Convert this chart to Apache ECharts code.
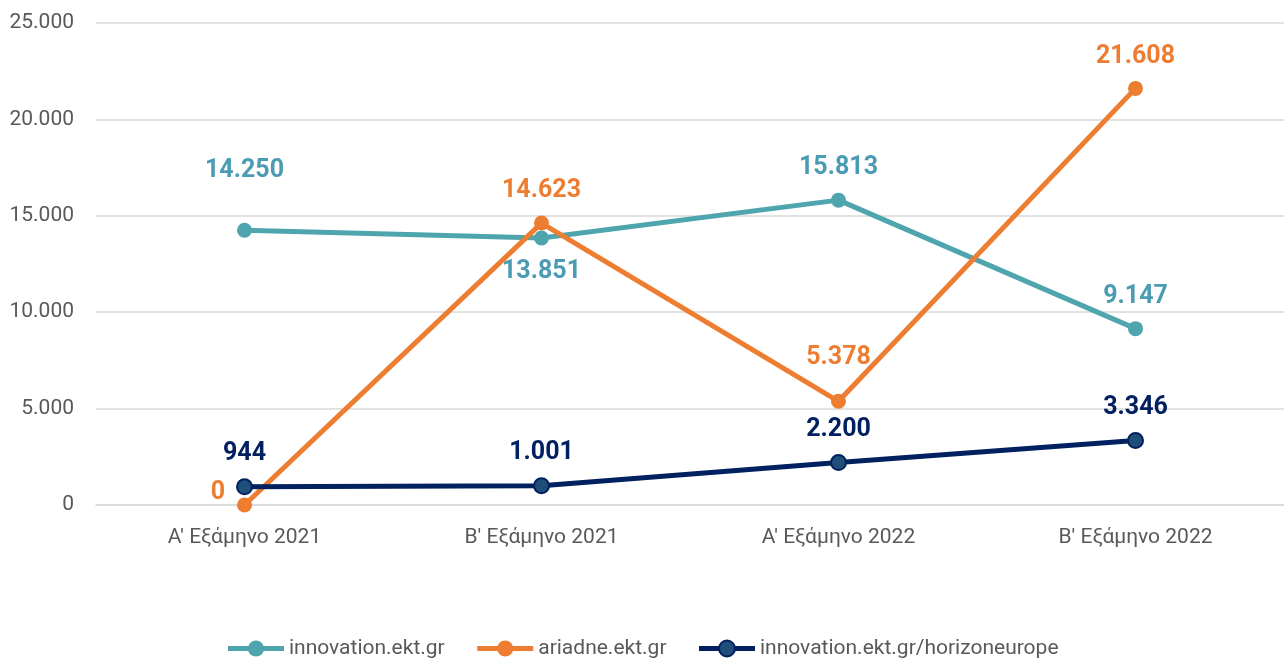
<!DOCTYPE html>
<html>
<head>
<meta charset="utf-8">
<script src="https://cdn.jsdelivr.net/npm/echarts@6/dist/echarts.min.js"></script>
<style>
  html, body { margin: 0; padding: 0; background: #fff; }
  #chart { width: 1284px; height: 661px; }
</style>
</head>
<body>
<div id="chart"></div>
<script>
'use strict';

var categories = ["A' Εξάμηνο 2021", "B' Εξάμηνο 2021", "A' Εξάμηνο 2022", "B' Εξάμηνο 2022"];
var innovation = [14250, 13851, 15813, 9147];
var ariadne = [0, 14623, 5378, 21608];
var horizon = [944, 1001, 2200, 3346];
var seriesNames = ['innovation.ekt.gr', 'ariadne.ekt.gr', 'innovation.ekt.gr/horizoneurope'];

var fmt = function (v) {
    return String(v).replace(/\B(?=(\d{3})+(?!\d))/g, '.');
};

var labelStyle = function (color) {
    return {
        show: true,
        position: 'top',
        distance: 12,
        color: color,
        fontSize: 25,
        fontWeight: 'bold',
        fontFamily: 'Roboto',
        formatter: function (p) { return fmt(p.value); }
    };
};

// per-point label positions that differ from the default
var innoData = innovation.map(function (v, i) {
    if (i === 0) return { value: v, label: { offset: [0, -28] } };
    if (i === 1) return { value: v, label: { position: 'bottom', distance: 14 } };
    return v;
});
var ariData = ariadne.map(function (v, i) {
    if (i === 0) return { value: v, label: { position: 'left', distance: 12, offset: [0, -12] } };
    if (i === 2) return { value: v, label: { offset: [0, -12] } };
    return v;
});

var myChart = echarts.init(document.getElementById('chart'));

var option = {
    backgroundColor: '#fff',
    animation: false,
    grid: { left: 96, right: 0, top: 23, bottom: 156 },
    legend: {
        top: 633,
        left: 'center',
        itemWidth: 56,
        itemHeight: 20,
        itemGap: 30,
        lineStyle: { width: 5 },
        textStyle: { color: '#595959', fontSize: 21, fontFamily: 'Roboto' },
        data: seriesNames
    },
    xAxis: {
        type: 'category',
        data: categories,
        axisLine: { lineStyle: { color: '#d9d9d9', width: 1.5 } },
        axisTick: { show: false },
        axisLabel: { color: '#595959', fontSize: 21, fontFamily: 'Roboto', margin: 22 }
    },
    yAxis: {
        type: 'value',
        min: 0,
        max: 25000,
        interval: 5000,
        axisLine: { show: false },
        axisTick: { show: false },
        axisLabel: {
            color: '#595959', fontSize: 21, fontFamily: 'Roboto', margin: 22,
            formatter: function (v) { return fmt(v); }
        },
        splitLine: { lineStyle: { color: '#d9d9d9', width: 1.5 } }
    },
    series: [
        {
            name: seriesNames[0],
            type: 'line',
            data: innoData,
            symbol: 'circle',
            symbolSize: 15,
            lineStyle: { color: '#4ea5ae', width: 5 },
            itemStyle: { color: '#4ea5ae' },
            label: labelStyle('#4a9bb3'),
            z: 2
        },
        {
            name: seriesNames[1],
            type: 'line',
            data: ariData,
            symbol: 'circle',
            symbolSize: 15,
            lineStyle: { color: '#ed7d31', width: 5 },
            itemStyle: { color: '#ed7d31' },
            label: labelStyle('#ed7d31'),
            z: 3
        },
        {
            name: seriesNames[2],
            type: 'line',
            data: horizon,
            symbol: 'circle',
            symbolSize: 15,
            lineStyle: { color: '#002060', width: 5 },
            itemStyle: { color: '#1f4e79', borderColor: '#002060', borderWidth: 2 },
            label: labelStyle('#002060'),
            z: 4
        }
    ]
};
myChart.setOption(option);
</script>
</body>
</html>
